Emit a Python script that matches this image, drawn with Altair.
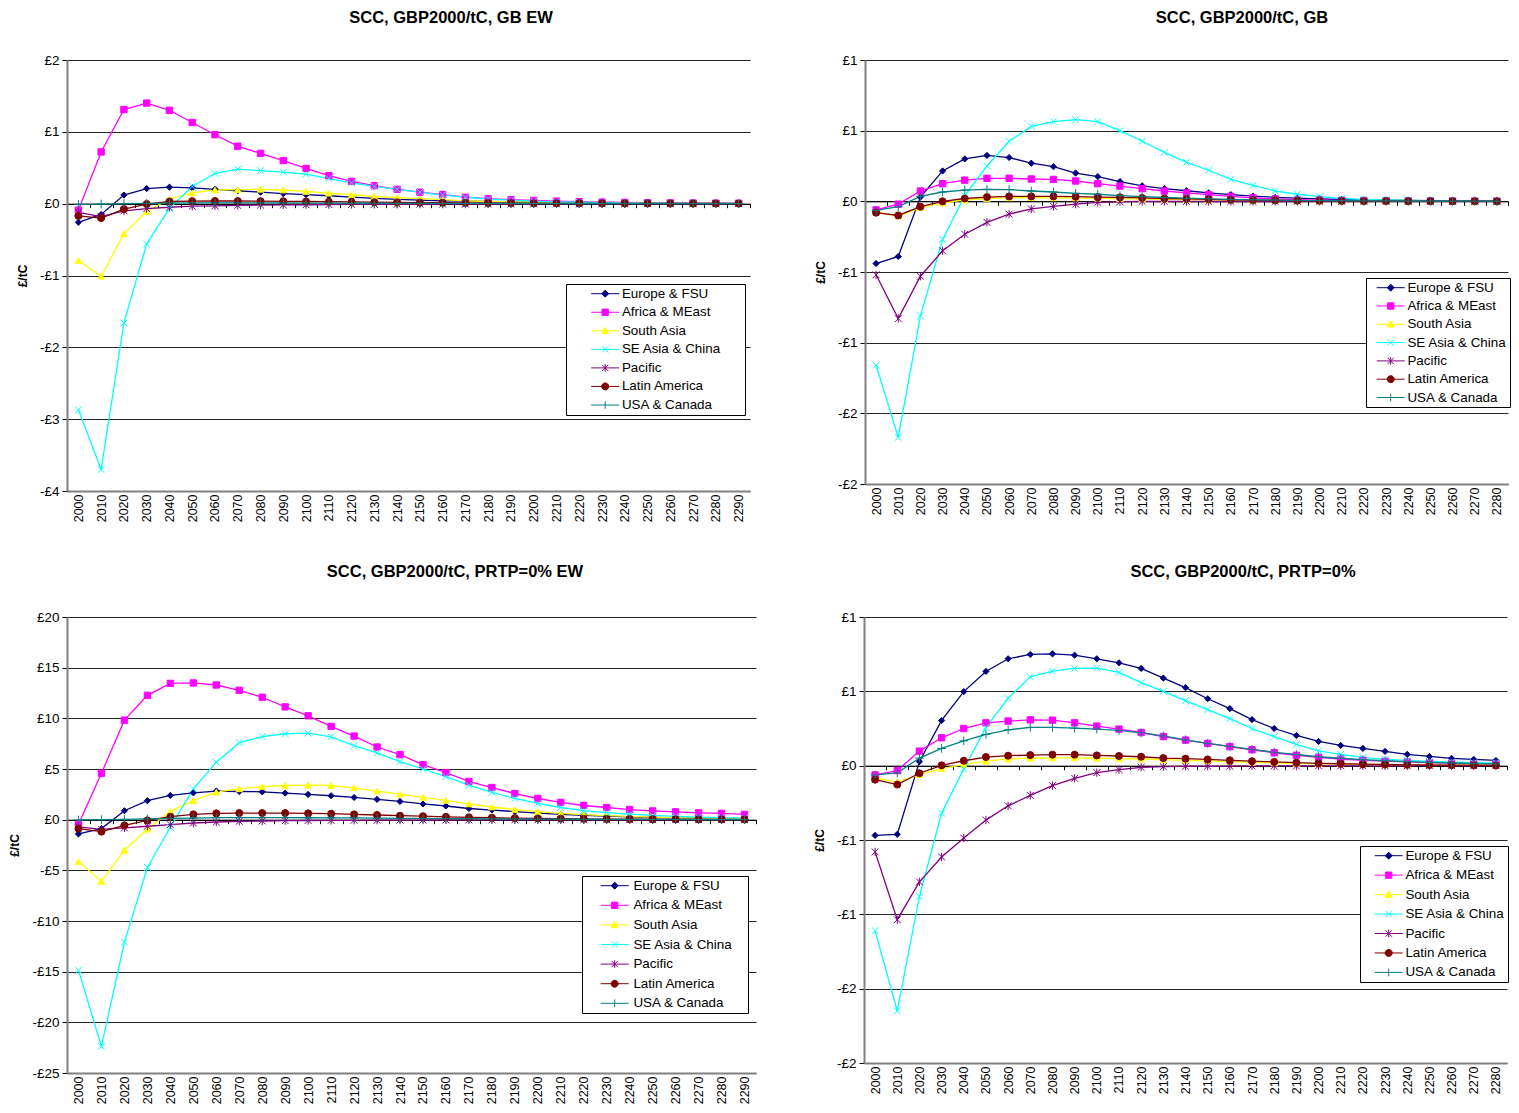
import altair as alt
import pandas as pd

FONT = "Liberation Sans"

SERIES = ["Europe & FSU", "Africa & MEast", "South Asia", "SE Asia & China",
          "Pacific", "Latin America", "USA & Canada"]
COLORS = ["#000080", "#FF00FF", "#FFFF00", "#00FFFF", "#800080", "#800000", "#008080"]
PLOT_SHAPES = ["diamond", "square", "triangle-up",
               "M-1,-1L1,1M-1,1L1,-1",
               "M-1,-1L1,1M-1,1L1,-1M0,-1.2V1.2",
               "circle",
               "M0,-1.2V1.2M-1.2,0H1.2"]
PLOT_SIZES = [38, 52, 55, 50, 50, 58, 50]
LEGEND_MARKERS = ["M0,-1L1,0L0,1L-1,0Z",
                  "M-0.9,-0.9H0.9V0.9H-0.9Z",
                  "M0,-1L1,0.8H-1Z",
                  "M-0.9,-0.9L0.9,0.9M-0.9,0.9L0.9,-0.9",
                  "M-0.9,-0.9L0.9,0.9M-0.9,0.9L0.9,-0.9M0,-1.1V1.1",
                  "M1,0A1,1 0 1,1 -1,0A1,1 0 1,1 1,0Z",
                  "M0,-1.1V1.1"]

YEARS_LEFT = list(range(2000, 2300, 10))   # 2000..2290
YEARS_RIGHT = list(range(2000, 2290, 10))  # 2000..2280 (visible part)

# ---------------- SCC, GBP2000/tC, GB EW ----------------
GBEW_EUROPE = [-0.26, -0.15, 0.12, 0.21, 0.23, 0.22, 0.20, 0.18, 0.16, 0.14, 0.125, 0.11, 0.09, 0.075, 0.06,
               0.05, 0.04, 0.035, 0.03, 0.025, 0.02, 0.015, 0.012, 0.01, 0.008, 0.006, 0.005, 0.004, 0.003, 0.002]
GBEW_AFRICA = [-0.09, 0.72, 1.31, 1.40, 1.30, 1.13, 0.96, 0.80, 0.70, 0.60, 0.49, 0.39, 0.31, 0.25, 0.20,
               0.16, 0.125, 0.09, 0.07, 0.055, 0.045, 0.035, 0.028, 0.022, 0.018, 0.014, 0.011, 0.009, 0.007, 0.006]
GBEW_SASIA = [-0.79, -1.01, -0.42, -0.11, 0.065, 0.15, 0.19, 0.195, 0.20, 0.19, 0.17, 0.145, 0.125, 0.10, 0.085,
              0.07, 0.055, 0.04, 0.03, 0.025, 0.02, 0.015, 0.012, 0.01, 0.008, 0.006, 0.005, 0.004, 0.003, 0.002]
GBEW_SEASIA = [-2.87, -3.70, -1.66, -0.56, -0.065, 0.24, 0.42, 0.48, 0.46, 0.44, 0.41, 0.35, 0.29, 0.24, 0.20,
               0.16, 0.12, 0.09, 0.065, 0.05, 0.035, 0.025, 0.02, 0.015, 0.011, 0.008, 0.006, 0.005, 0.004, 0.003]
GBEW_PACIFIC = [-0.12, -0.18, -0.10, -0.07, -0.05, -0.035, -0.03, -0.025, -0.02, -0.018, -0.015, -0.013, -0.011,
                -0.01, -0.009, -0.008, -0.007, -0.006, -0.005, -0.005, -0.004, -0.004, -0.003, -0.003, -0.003,
                -0.002, -0.002, -0.002, -0.002, -0.001]
GBEW_LATAM = [-0.17, -0.20, -0.075, -0.005, 0.03, 0.035, 0.037, 0.037, 0.035, 0.033, 0.03, 0.027, 0.024, 0.021,
              0.018, 0.015, 0.013, 0.011, 0.009, 0.008, 0.006, 0.005, 0.004, 0.004, 0.003, 0.003, 0.002, 0.002,
              0.002, 0.001]
GBEW_USA = [-0.01, -0.005, 0.0, 0.005, 0.008, 0.01, 0.01, 0.01, 0.01, 0.009, 0.008, 0.007, 0.006, 0.006, 0.005,
            0.004, 0.004, 0.003, 0.003, 0.002, 0.002, 0.002, 0.001, 0.001, 0.001, 0.001, 0.001, 0.0, 0.0, 0.0]

# ---------------- SCC, GBP2000/tC, GB ----------------
GB_EUROPE = [-0.44, -0.39, 0.03, 0.215, 0.30, 0.325, 0.31, 0.27, 0.245, 0.20, 0.175, 0.14, 0.11, 0.09, 0.075,
             0.06, 0.047, 0.037, 0.028, 0.022, 0.017, 0.013, 0.01, 0.008, 0.006, 0.005, 0.004, 0.003, 0.002]
GB_AFRICA = [-0.06, -0.02, 0.073, 0.125, 0.15, 0.163, 0.163, 0.158, 0.155, 0.144, 0.125, 0.108, 0.09, 0.073,
             0.06, 0.047, 0.035, 0.024, 0.017, 0.012, 0.009, 0.007, 0.005, 0.004, 0.003, 0.002, 0.002, 0.001, 0.001]
GB_SASIA = [-0.075, -0.105, -0.045, -0.012, 0.01, 0.02, 0.025, 0.026, 0.025, 0.023, 0.021, 0.019, 0.016, 0.014,
            0.012, 0.01, 0.008, 0.006, 0.005, 0.004, 0.003, 0.002, 0.002, 0.001, 0.001, 0.001, 0.001, 0.0, 0.0]
GB_SEASIA = [-1.16, -1.67, -0.81, -0.27, 0.04, 0.25, 0.425, 0.53, 0.564, 0.578, 0.564, 0.50, 0.425, 0.347,
             0.276, 0.22, 0.156, 0.113, 0.073, 0.05, 0.033, 0.02, 0.014, 0.01, 0.007, 0.005, 0.004, 0.003, 0.002]
GB_PACIFIC = [-0.52, -0.83, -0.53, -0.35, -0.233, -0.149, -0.09, -0.054, -0.035, -0.02, -0.007, -0.003, -0.001,
              -0.001, -0.001, -0.001, -0.001, -0.001, -0.001, 0.0, 0.0, 0.0, 0.0, 0.0, 0.0, 0.0, 0.0, 0.0, 0.0]
GB_LATAM = [-0.08, -0.10, -0.038, 0.0, 0.02, 0.03, 0.035, 0.035, 0.035, 0.033, 0.03, 0.028, 0.024, 0.02, 0.017,
            0.014, 0.011, 0.009, 0.007, 0.005, 0.004, 0.003, 0.002, 0.002, 0.001, 0.001, 0.001, 0.001, 0.0]
GB_USA = [-0.064, -0.038, 0.035, 0.066, 0.08, 0.085, 0.083, 0.073, 0.066, 0.057, 0.05, 0.04, 0.033, 0.027, 0.022,
          0.018, 0.014, 0.011, 0.009, 0.007, 0.005, 0.004, 0.003, 0.003, 0.002, 0.002, 0.001, 0.001, 0.001]

# ---------------- SCC, GBP2000/tC, PRTP=0% EW ----------------
P0EW_EUROPE = [-1.41, -0.88, 0.88, 1.87, 2.39, 2.65, 2.82, 2.78, 2.75, 2.62, 2.49, 2.36, 2.19, 2.0, 1.8, 1.55,
               1.35, 1.1, 0.95, 0.8, 0.65, 0.52, 0.42, 0.34, 0.27, 0.22, 0.18, 0.14, 0.11, 0.09]
P0EW_AFRICA = [-0.45, 4.58, 9.82, 12.27, 13.45, 13.49, 13.29, 12.77, 12.08, 11.13, 10.25, 9.2, 8.25, 7.17, 6.42,
               5.43, 4.65, 3.77, 3.17, 2.58, 2.09, 1.70, 1.40, 1.2, 1.0, 0.86, 0.77, 0.67, 0.62, 0.52]
P0EW_SASIA = [-4.13, -6.09, -3.02, -0.95, 0.82, 1.87, 2.72, 3.04, 3.27, 3.37, 3.40, 3.37, 3.14, 2.82, 2.52, 2.2,
              1.9, 1.55, 1.25, 1.0, 0.8, 0.62, 0.5, 0.4, 0.32, 0.25, 0.2, 0.16, 0.13, 0.1]
P0EW_SEASIA = [-14.87, -22.37, -12.08, -4.72, -0.75, 3.04, 5.66, 7.6, 8.2, 8.48, 8.54, 8.18, 7.3, 6.58, 5.73,
               5.0, 4.25, 3.4, 2.7, 2.1, 1.6, 1.2, 0.9, 0.7, 0.55, 0.42, 0.33, 0.26, 0.2, 0.16]
P0EW_PACIFIC = [-0.72, -0.95, -0.82, -0.65, -0.49, -0.33, -0.23, -0.16, -0.13, -0.10, -0.08, -0.07, -0.06, -0.05,
                -0.045, -0.04, -0.035, -0.03, -0.025, -0.02, -0.018, -0.015, -0.012, -0.01, -0.008, -0.007,
                -0.006, -0.005, -0.004, -0.003]
P0EW_LATAM = [-0.88, -1.18, -0.56, -0.07, 0.29, 0.52, 0.62, 0.65, 0.65, 0.65, 0.62, 0.59, 0.52, 0.46, 0.39, 0.34,
              0.28, 0.23, 0.19, 0.15, 0.12, 0.1, 0.08, 0.06, 0.05, 0.04, 0.03, 0.025, 0.02, 0.015]
P0EW_USA = [-0.03, 0.0, 0.03, 0.07, 0.13, 0.16, 0.2, 0.2, 0.2, 0.2, 0.19, 0.18, 0.17, 0.15, 0.13, 0.12, 0.1,
            0.09, 0.08, 0.07, 0.06, 0.05, 0.04, 0.035, 0.03, 0.025, 0.02, 0.018, 0.015, 0.012]

# ---------------- SCC, GBP2000/tC, PRTP=0% ----------------
P0_EUROPE = [-0.469, -0.462, 0.027, 0.304, 0.498, 0.634, 0.719, 0.748, 0.752, 0.743, 0.719, 0.692, 0.654, 0.589,
             0.525, 0.45, 0.384, 0.31, 0.25, 0.203, 0.163, 0.136, 0.116, 0.096, 0.076, 0.062, 0.049, 0.042, 0.035]
P0_AFRICA = [-0.0625, -0.033, 0.098, 0.1875, 0.25, 0.288, 0.30, 0.308, 0.306, 0.288, 0.266, 0.246, 0.223, 0.196,
             0.172, 0.15, 0.128, 0.107, 0.087, 0.07, 0.056, 0.045, 0.036, 0.03, 0.025, 0.02, 0.017, 0.014, 0.012]
P0_SASIA = [-0.083, -0.11, -0.06, -0.02, 0.007, 0.03, 0.045, 0.05, 0.053, 0.053, 0.05, 0.048, 0.045, 0.04, 0.036,
            0.032, 0.027, 0.022, 0.018, 0.015, 0.012, 0.01, 0.008, 0.006, 0.005, 0.004, 0.003, 0.002, 0.002]
P0_SEASIA = [-1.11, -1.65, -0.88, -0.319, -0.022, 0.257, 0.453, 0.598, 0.636, 0.654, 0.656, 0.627, 0.558, 0.5,
             0.4375, 0.377, 0.317, 0.25, 0.196, 0.143, 0.1, 0.076, 0.056, 0.042, 0.035, 0.029, 0.024, 0.02, 0.017]
P0_PACIFIC = [-0.58, -1.036, -0.782, -0.614, -0.487, -0.366, -0.27, -0.20, -0.134, -0.085, -0.047, -0.027,
              -0.011, -0.007, -0.004, -0.003, -0.003, -0.002, -0.002, -0.002, -0.001, -0.001, -0.001, -0.001,
              -0.001, 0.0, 0.0, 0.0, 0.0]
P0_LATAM = [-0.094, -0.127, -0.051, 0.002, 0.033, 0.058, 0.067, 0.071, 0.074, 0.074, 0.069, 0.065, 0.06, 0.051,
            0.047, 0.042, 0.036, 0.03, 0.025, 0.02, 0.016, 0.013, 0.01, 0.008, 0.006, 0.005, 0.004, 0.003, 0.002]
P0_USA = [-0.0625, -0.049, 0.051, 0.116, 0.167, 0.21, 0.241, 0.257, 0.257, 0.252, 0.246, 0.237, 0.221, 0.2,
          0.174, 0.15, 0.13, 0.11, 0.09, 0.075, 0.06, 0.05, 0.04, 0.033, 0.027, 0.022, 0.018, 0.015, 0.012]

LABEL_INT = "datum.value < 0 ? '-£' + format(-datum.value, 'd') : '£' + format(datum.value, 'd')"
LABEL_ROUND = ("datum.value < 0 ? '-£' + format(round(-datum.value), 'd') : "
               "'£' + format(round(datum.value), 'd')")


def legend_paths(right_units):
    return ["M%.2f,0M-4,0H4" % right_units + m for m in LEGEND_MARKERS]


def panel(title, title_dx, title_offset, years, series_values, ymin, ymax, ystep, label_expr,
          width, height, title_pad, lx, ly, sym_off, lab_off, right_units, row_pad):
    rows = []
    for name, vals in zip(SERIES, series_values):
        for yr, v in zip(years, vals):
            rows.append({"year": yr, "value": v, "series": name})
    df = pd.DataFrame(rows)

    xscale = alt.Scale(domain=[years[0] - 5, years[-1] + 5], nice=False, zero=False)
    yscale = alt.Scale(domain=[ymin, ymax], nice=False, zero=False)
    nsteps = int(round((ymax - ymin) / ystep))
    yvals = [round(ymin + i * ystep, 6) for i in range(nsteps + 1)]
    edge_vals = [y - 5 for y in years] + [years[-1] + 5]
    zero_offset = -height * (0 - ymin) / (ymax - ymin)
    color_scale = alt.Scale(domain=SERIES, range=COLORS)

    base = alt.Chart(df)

    lines = base.mark_line(strokeWidth=1.3).encode(
        x=alt.X("year:Q", scale=xscale,
                axis=alt.Axis(orient="bottom", offset=zero_offset, labels=False, title=None,
                              grid=False, values=edge_vals, tickSize=4, tickColor="#000000",
                              tickWidth=1, domainColor="#000000", domainWidth=1)),
        y=alt.Y("value:Q", scale=yscale, axis=None),
        color=alt.Color("series:N", scale=color_scale, legend=None),
        detail="series:N",
    )

    points = base.mark_point(filled=True, opacity=1, strokeWidth=1).encode(
        x=alt.X("year:Q", scale=xscale,
                axis=alt.Axis(orient="bottom", values=years, labelAngle=-90, ticks=False, grid=False,
                              format="d", domainColor="#808080", domainWidth=2, title=None,
                              labelFontSize=12.5, labelPadding=3, labelColor="#000000")),
        y=alt.Y("value:Q", scale=yscale,
                axis=alt.Axis(orient="left", values=yvals, labelExpr=label_expr, grid=True,
                              gridColor="#000000", gridWidth=1, gridOpacity=0.85,
                              tickColor="#000000", tickSize=5,
                              domainColor="#808080", domainWidth=2, title="£/tC",
                              titleFontWeight="bold", titleFontSize=12, titlePadding=title_pad,
                              labelFontSize=13.5, labelPadding=3, labelColor="#000000",
                              titleColor="#000000")),
        fill=alt.Fill("series:N", scale=color_scale, legend=None),
        stroke=alt.Stroke("series:N", scale=color_scale, legend=None),
        shape=alt.Shape("series:N", scale=alt.Scale(domain=SERIES, range=PLOT_SHAPES), legend=None),
        size=alt.Size("series:N", scale=alt.Scale(domain=SERIES, range=PLOT_SIZES), legend=None),
    )

    leg = alt.Legend(title=None, orient="none", legendX=lx, legendY=ly, direction="vertical",
                     strokeColor="#000000", fillColor="#FFFFFF", padding=3, symbolSize=49,
                     symbolStrokeWidth=1, symbolOpacity=1, symbolOffset=sym_off,
                     labelFont=FONT, labelFontSize=13.4, labelColor="#000000", labelOffset=lab_off,
                     rowPadding=row_pad, labelLimit=400, cornerRadius=0)
    legend_layer = base.transform_filter("datum.value > 1e9").mark_point(filled=True, opacity=1).encode(
        x=alt.X("year:Q", scale=xscale, axis=None),
        y=alt.Y("value:Q", scale=yscale, axis=None),
        fill=alt.Fill("series:N", scale=alt.Scale(domain=SERIES, range=COLORS), legend=leg),
        stroke=alt.Stroke("series:N", scale=alt.Scale(domain=SERIES, range=COLORS), legend=leg),
        shape=alt.Shape("series:N",
                        scale=alt.Scale(domain=SERIES, range=legend_paths(right_units)),
                        legend=leg),
    )

    return alt.layer(lines, points, legend_layer).resolve_axis(
        x="independent", y="independent"
    ).resolve_scale(
        fill="independent", stroke="independent", shape="independent"
    ).resolve_legend(
        fill="independent", stroke="independent", shape="independent"
    ).properties(
        width=width, height=height,
        title=alt.TitleParams(title, font=FONT, fontSize=16.5, fontWeight="bold", anchor="middle",
                              dx=title_dx, dy=-3, offset=title_offset, color="#000000"),
    )


tl = panel("SCC, GBP2000/tC, GB EW", 42.5, 23.5, YEARS_LEFT,
           [GBEW_EUROPE, GBEW_AFRICA, GBEW_SASIA, GBEW_SEASIA, GBEW_PACIFIC, GBEW_LATAM, GBEW_USA],
           -4, 2, 1, LABEL_INT, 683, 431, 10, 499, 224, 29.5, 10, 38.4, 3.55)
tr = panel("SCC, GBP2000/tC, GB", 55.5, 23.5, YEARS_RIGHT,
           [GB_EUROPE, GB_AFRICA, GB_SASIA, GB_SEASIA, GB_PACIFIC, GB_LATAM, GB_USA],
           -2, 1, 0.5, LABEL_ROUND, 643, 424, 10, 501, 218, 15, 10, 4, 3.3)
bl = panel("SCC, GBP2000/tC, PRTP=0% EW", 43.5, 26.5, YEARS_LEFT,
           [P0EW_EUROPE, P0EW_AFRICA, P0EW_SASIA, P0EW_SEASIA, P0EW_PACIFIC, P0EW_LATAM, P0EW_USA],
           -25, 20, 5, LABEL_INT, 689, 456, 10, 515, 259, 23, 12, 36.6, 4.6)
br = panel("SCC, GBP2000/tC, PRTP=0%", 57.5, 26.5, YEARS_RIGHT,
           [P0_EUROPE, P0_AFRICA, P0_SASIA, P0_SEASIA, P0_PACIFIC, P0_LATAM, P0_USA],
           -2, 1, 0.5, LABEL_ROUND, 643, 446, 10, 496, 229, 19, 10, 4, 4.45)

chart = alt.vconcat(
    alt.hconcat(tl, tr, spacing=63),
    alt.hconcat(bl, br, spacing=56),
    spacing=42,
).properties(
    padding={"left": 0, "top": 2, "right": 0, "bottom": 0},
    background="#FFFFFF",
).configure(
    font=FONT,
).configure_view(
    stroke=None,
).configure_axis(
    labelFont=FONT, titleFont=FONT,
)

chart.save("out.html", embed_options={"renderer": "svg", "actions": False})
